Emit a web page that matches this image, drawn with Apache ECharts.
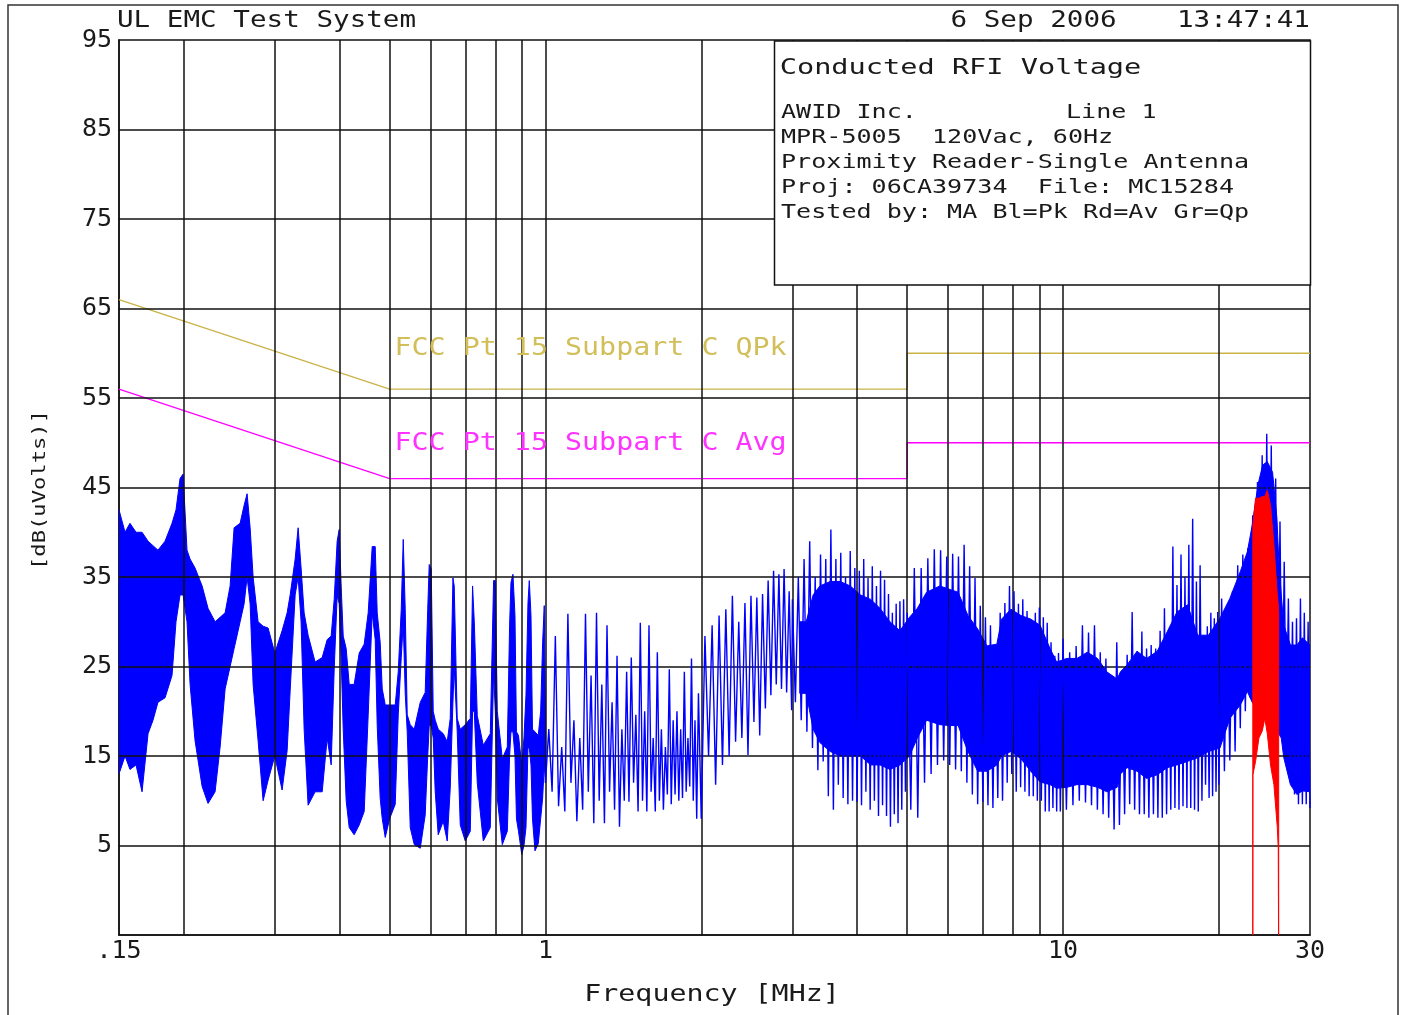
<!DOCTYPE html>
<html><head><meta charset="utf-8">
<script src="https://cdn.jsdelivr.net/npm/echarts@6/dist/echarts.min.js"></script>
<style>html,body{margin:0;padding:0;background:#fff}#c{width:1403px;height:1015px}</style>
</head><body><div id="c"></div>
<script>
// ---------- tick / grid data ----------
const gridFreqs = [0.2,0.3,0.4,0.5,0.6,0.7,0.8,0.9,1,2,3,4,5,6,7,8,9,10,20];
const gridLevels = [5,15,25,35,45,55,65,75,85];

// ---------- limit lines ----------
const limFreq = [0.15, 0.5, 5, 5, 30];
const qpkVal  = [66, 56, 56, 60, 60];
const avgVal  = [56, 46, 46, 50, 50];

// ---------- peak trace: envelope band 0.15 - 1 MHz ----------
const bandAFreq = [0.150,0.1541,0.1575,0.1618,0.1662,0.1707,0.1745,0.1784,0.1841,0.1899,
 0.1933,0.1968,0.1995,0.2030,0.2058,0.2104,0.2171,0.2229,0.2300,0.2352,
 0.2405,0.2459,0.2503,0.2571,0.2617,0.2652,0.2688,0.2724,0.2785,0.2848,
 0.2912,0.3000,0.3099,0.3169,0.3212,0.3284,0.3328,0.3372,0.3418,0.3479,
 0.3589,0.3704,0.3787,0.3855,0.3907,0.3959,0.3995,0.4030,0.4067,0.4121,
 0.4177,0.4270,0.4367,0.4465,0.4545,0.4627,0.4689,0.4731,0.4794,0.4838,
 0.4903,0.5000,0.5126,0.5195,0.5265,0.5312,0.5359,0.5407,0.5480,0.5579,
 0.5730,0.5857,0.5923,0.5963,0.6016,0.6070,0.6124,0.6206,0.6346,0.6460,
 0.6547,0.6626,0.6664,0.6754,0.6845,0.7000,0.7158,0.7231,0.7286,0.7384,
 0.7584,0.7824,0.7940,0.8000,0.8071,0.8253,0.8439,0.8526,0.8578,0.8654,
 0.8732,0.8790,0.8869,0.9000,0.9089,0.9170,0.9252,0.9306,0.9377,0.9439,
 0.9545,0.9685,0.9789,0.9876,0.9947,1.000];
const bandAHi = [42.5,40,41,40,40,39,38.5,38,39,41,
 42.5,46,46.5,38,37,36,34,31.5,30,30.5,
 31,34,40.5,41,43,44.3,40.5,35,30,29.5,
 29.3,26.5,29,31,33,37,40.5,36,31,28.5,
 25.5,26,28,28.4,32.5,39,40.3,34,28.4,27,
 23,23,26.5,27.5,31,38.4,38.4,31,27.7,22.5,
 20.7,20.7,20.7,24.4,31.4,39.2,31.4,19.6,18.5,18,
 21,22.1,31.4,36.4,35.9,20,19,18,17.5,16.6,
 19.2,34.9,34,19.2,18,18.5,19.2,34,30,19.5,
 16.2,17.5,34.6,34.6,20,14.7,16,29.6,34.4,35.3,
 30.7,17.7,17.3,14,17,21.8,32.1,34.6,30.7,18,
 17.7,17.3,20,27.7,31.8,20];
const bandALo = [13,15,13.5,14,11,17.5,19,21,21.5,24,
 30,33,33,30,23,16.7,11.6,9.7,11,16,
 22.5,25,27,30,32,35,32,23,16.7,10,
 12.3,15,11.2,15.6,22.3,33,35,30,18,9.5,
 11,11,17,14,24.7,32.9,32,26,18,10,
 7,6.2,7.3,8.8,19.6,31,28,18.4,10.3,8,
 5.9,8,9.6,19.6,26,29.9,22,17.7,7,5.1,
 4.7,8.4,15,18.4,18.4,17,11,6.2,7.7,5.5,
 11.4,21,25,17.7,7.3,5.5,6.6,20,20,12,
 5.5,7,24.4,20,10.3,5.1,6.6,15,17.7,17.7,
 15,8,6.6,4,5,7,15.9,15.9,14,8,
 4.4,5.2,8,10.3,14,12];

// ---------- peak trace: dense core band 3.1 - 30 MHz ----------
const bandBFreq = [3.10,3.19,3.29,3.39,3.55,3.71,3.88,4.06,4.25,4.43,
 4.63,4.84,5.05,5.23,5.45,5.78,6.05,6.27,6.55,6.84,
 7.13,7.45,7.61,7.93,8.29,8.66,9.03,9.44,9.72,10.17,
 10.64,11.14,11.66,12.15,12.72,12.91,13.3,13.9,14.5,15.2,
 15.9,16.6,17.4,18.2,19.1,20.1,21.0,22.0,22.7,23.2,
 23.8,24.3,24.8,25.4,25.9,26.1,26.4,26.7,27.5,28.3,
 29.0,30.0];
const bandBHi = [30,30,33,34,34.5,34.5,34,33,32.5,31.5,
 30,29,30.5,31.5,33.3,34,33.6,33.3,30.7,29.2,
 27.3,27.5,30.3,31.4,30.7,30.3,29.6,27,25.5,25.9,
 25.9,26.6,25.9,24.4,23.6,24.4,25.2,26.7,25.9,26.7,
 28.9,31.1,31.9,28.5,28.5,30.4,32.6,35.6,37.8,40.8,
 45.3,47.5,47.9,46.7,41.5,37.1,33,29.6,27.4,27.4,
 28.2,27.4];
const bandBLo = [22,22,18,16.5,15.5,15,15,15,14,14,
 13.5,14,15,17,19,18.5,18.4,18.4,15.5,13.3,
 13.3,14,15,15.5,14.7,13.3,12.1,11.8,11.4,11.5,
 11.8,11.8,11.5,11,11.5,13,13.7,13.3,12.5,12.9,
 13.7,14,14.4,14.8,15.5,15.9,19.2,20.7,22.2,21,
 20,20,19.5,19,18,17.5,17,14.8,11.8,10.7,
 11.1,11];

// ---------- peak trace: individual sweep spikes 1 - 30 MHz ----------
const spikeFreq1 = [1.000,1.015,1.030,1.045,1.060,1.075,1.090,1.105,1.120,1.135,1.150,1.165,1.180,1.195,1.210,1.225,1.240,1.255,1.270,1.285,1.300,1.315,1.330,1.345,1.360,1.375,1.390,1.405,1.420,1.435,1.450,1.465,1.480,1.495,1.510,1.525,1.540,1.555,1.570,1.585,1.600,1.615,1.630,1.645,1.660,1.675,1.690,1.705,1.720,1.735,1.750,1.765,1.780,1.795,1.810,1.825,1.840,1.855,1.870,1.885,1.900,1.915,1.930,1.945,1.960,1.975];
const spikeVal1 = [12,18,11,28.4,9.4,16,8.8,30.9,12,19, 7.7,17,9,30.9,11,24,7.5,31,10,23, 7.5,29.6,11,21,9,26.2,7.1,18,10,24.4, 9.9,26,12,19.6,8.8,29.9,10,20,8.8,29.6, 11,17,8.8,26.6,10,18,9,16,10.7,24.7, 9.6,19,10.7,20,10,18,10.3,24.4,11,17, 11.6,25.9,10,19,8,22];
const spikeFreq2 = [2.000,2.033,2.066,2.099,2.132,2.165,2.198,2.231,2.264,2.297,2.330,2.363,2.396,2.429,2.462,2.495,2.528,2.561,2.594,2.627,2.660,2.693,2.726,2.759,2.792,2.825,2.858,2.891,2.924,2.957,2.990];
const spikeVal2 = [8,28.4,15,29.6,11.8,30.7,14,31.4,15,32.9,16.6,30,17,32.1,15.1,32.9,18.8,32.7,17.3,33.1,20.3,34.6,21.8,35.7,23,35.3,22.5,35.9,22.1,33.4,20.1];
const spikeFreq3 = [3.00,3.04,3.08,3.12,3.16,3.20,3.24,3.28,3.32,3.36,3.40,3.44,3.48,3.52,3.56,3.60,3.64,3.68,3.72,3.76,3.80,3.84,3.88,3.92,3.96,4.00,4.04,4.08,4.12,4.16,4.20,4.24,4.28,4.32,4.36,4.40,4.44,4.48,4.52,4.56,4.60,4.64,4.68,4.72,4.76,4.80,4.84,4.88,4.92,4.96];
const spikeVal3 = [32.5,21,35,19,37,17.7,39,15.9,35,13.4, 37.5,14.4,37,10.5,40.3,9,37,11.8,37.7,10.3, 35,9.6,37.9,10,36,9.9,35.7,9.5,37,11, 34.9,9,36.2,10,34,8.3,35.7,9.5,34.7,8.3, 33.1,7.1,31,8.5,32,7.5,32.3,9,32.5,11];
const spikeFreq4 = [5.00,5.08,5.16,5.24,5.32,5.40,5.48,5.56,5.64,5.72,5.80,5.88,5.96,6.04,6.12,6.20,6.28,6.36,6.44,6.52,6.60,6.68,6.76,6.84,6.92,7.00,7.08,7.16,7.24,7.32,7.40,7.48,7.56,7.64,7.72,7.80,7.88,7.96,8.04,8.12,8.20,8.28,8.36,8.44,8.52,8.60,8.68,8.76,8.84,8.92,9.00,9.08,9.16,9.24,9.32,9.40,9.48,9.56,9.64,9.72,9.80,9.88];
const spikeVal4 = [31,9,36,8.1,36,12,37.1,13,38.1,14, 38,14.5,37.3,14,37.6,13.5,37.3,13.3,38.6,12, 36.2,10.7,34.9,9.6,31.8,9.9,30.5,9.5,29.6,9.2, 27.3,10.3,31,10,32.1,12,34,13,33.4,11, 32,11.5,32.5,11,31.2,10.5,30,10.5,31,10, 31.6,10,30.5,8.8,29.9,8.8,27.7,9.2,26.2,8.8, 26.5,8.8];
const spikeFreq5 = [10.00,10.15,10.30,10.45,10.60,10.75,10.90,11.05,11.20,11.35,11.50,11.65,11.80,11.95,12.10,12.25,12.40,12.55,12.70,12.85,13.00,13.15,13.30,13.45,13.60,13.75,13.90,14.05,14.20,14.35,14.50,14.65,14.80,14.95,15.10,15.25,15.40,15.55,15.70,15.85,16.00,16.15,16.30,16.45,16.60,16.75,16.90,17.05,17.20,17.35,17.50,17.65,17.80,17.95,18.10,18.25,18.40,18.55,18.70,18.85,19.00,19.15,19.30,19.45,19.60,19.75,19.90];
const spikeVal5 = [28.1,9,26.6,9.5,27.3,10,29.6,9.8,28.8,9.5, 29.6,9,26.6,8.5,25.9,8.1,24,6.8,27.7,7.3, 24.5,8.5,26.3,9.6,31.1,9,26.7,8.5,28.9,8.5, 27,8.1,27.4,8.5,27,8.1,29,8.1,31.5,8.5, 28.9,9,38.4,9.2,34.1,9,37.5,9.4,35,9.2, 38.6,9.2,41.5,9,34.5,8.8,36.3,10,28.5,11.8, 29.5,10.3,31,10.5,30.4,11,31.1];
const spikeFreq6 = [20.00,20.25,20.50,20.75,21.00,21.25,21.50,21.75,22.00,22.25,22.50,22.75,23.00,23.25,23.50,23.75,24.00,24.25,24.50,24.75,25.00,25.25,25.50,25.75,26.00,26.25,26.50,26.75,27.00,27.25,27.50,27.75,28.00,28.25,28.50,28.75,29.00,29.25,29.50,29.75,30.00];
const spikeVal6 = [11.8,32.6,13.3,31,14.5,33.4,15.5,36.3,18.1,37.5, 20,38.2,21.5,41.9,21,45.6,20,48.6,20,51, 19.5,49.7,18.5,46,18,41.2,17,36.7,16,32.6, 12,30,10.7,30.4,9.6,32.6,9.6,31,9.6,30, 9.2];

// ---------- average trace (red) ----------
const redFreq = [23.26,23.27,23.55,23.90,24.26,24.54,24.81,25.17,25.55,25.94,26.05,26.10];
const redTop  = [38.5,40.8,43.8,43.8,44,44,44.7,43,38.6,33,32,31];
const redBot  = [-10,12.9,14.4,17,17.8,19.2,17.5,14,11.8,7,4.7,-10];

// ---------- texts ----------
const headerLeft = 'UL EMC Test System';
const headerDate = '6 Sep 2006';
const headerTime = '13:47:41';
const boxTitle = 'Conducted RFI Voltage';
const boxLines = ['AWID Inc.', 'MPR-5005  120Vac, 60Hz', 'Proximity Reader-Single Antenna', 'Proj: 06CA39734  File: MC15284', 'Tested by: MA Bl=Pk Rd=Av Gr=Qp'];
const boxLineRight = 'Line 1';
const qpkLabel = 'FCC Pt 15 Subpart C QPk';
const avgLabel = 'FCC Pt 15 Subpart C Avg';
const xName = 'Frequency [MHz]';
const yName = '[dB(uVolts)]';

// ---------- build ----------
const FONT = '"DejaVu Sans Mono", "Liberation Mono", monospace';
const BLUE = '#0000ff', RED = '#ff0000', INK = '#1a1a1a';
const QPK_C = '#c9b347', AVG_C = '#ff00ff';
const zip = (xs, ys) => xs.map((x, i) => [x, ys[i]]);
const spikeFreq = [].concat(spikeFreq1, spikeFreq2, spikeFreq3, spikeFreq4, spikeFreq5, spikeFreq6);
const spikeVal = [].concat(spikeVal1, spikeVal2, spikeVal3, spikeVal4, spikeVal5, spikeVal6);

// filled band between an upper and a lower trace, drawn through the axes' scales
function bandSeries(name, xs, hi, lo, color, z) {
  return {
    type: 'custom', name: name, z: z, silent: true, clip: true,
    data: xs.map((x, i) => [x, hi[i], lo[i]]),
    encode: { x: 0, y: [1, 2] },
    renderItem: function (params, api) {
      if (params.dataIndex !== 0) return null;
      const pts = [];
      for (let i = 0; i < xs.length; i++) pts.push(api.coord([xs[i], hi[i]]));
      for (let i = xs.length - 1; i >= 0; i--) pts.push(api.coord([xs[i], lo[i]]));
      return { type: 'polygon', shape: { points: pts }, style: { fill: color, stroke: color, lineWidth: 1 } };
    }
  };
}
function txt(text, x, y, size, sx, color, align) {
  return { type: 'text', x: x, y: y, scaleX: sx, z: 102, silent: true,
    style: { text: text, fontFamily: FONT, fontSize: size, fill: color, align: align || 'left', verticalAlign: 'middle' } };
}

const chart = echarts.init(document.getElementById('c'), null, { renderer: 'canvas' });
const option = {
  animation: false,
  backgroundColor: '#ffffff',
  grid: { left: 119, right: 93, top: 40, bottom: 80, show: true, borderColor: '#111', borderWidth: 1.5, backgroundColor: 'transparent' },
  xAxis: {
    type: 'log', logBase: 10, min: 0.15, max: 30,
    axisLine: { show: true, onZero: false, lineStyle: { color: '#111', width: 1.5 } },
    axisTick: { show: false }, splitLine: { show: false },
    axisLabel: { fontFamily: FONT, fontSize: 25, color: INK, margin: 4, showMinLabel: true, showMaxLabel: true,
      formatter: v => (Math.abs(v - 0.15) < 1e-6 ? '.15' : String(Math.round(v))) }
  },
  yAxis: {
    type: 'value', min: -5, max: 95, interval: 10,
    axisLine: { show: true, onZero: false, lineStyle: { color: '#111', width: 1.5 } },
    axisTick: { show: false }, splitLine: { show: false },
    axisLabel: { fontFamily: FONT, fontSize: 25, color: INK, margin: 7, formatter: v => (v < 0 ? '' : String(v)) }
  },
  series: [
    { name: 'QPk limit', type: 'line', data: zip(limFreq, qpkVal), symbol: 'none', lineStyle: { color: QPK_C, width: 1.3 }, z: 3, silent: true },
    { name: 'Avg limit', type: 'line', data: zip(limFreq, avgVal), symbol: 'none', lineStyle: { color: AVG_C, width: 1.3 }, z: 3, silent: true },
    bandSeries('Peak band A', bandAFreq, bandAHi, bandALo, BLUE, 4),
    bandSeries('Peak band B', bandBFreq, bandBHi, bandBLo, BLUE, 4),
    { name: 'Peak', type: 'line', data: zip(spikeFreq, spikeVal), symbol: 'none', lineStyle: { color: BLUE, width: 1.4 }, z: 5, silent: true },
    { name: 'grid', type: 'line', data: [], z: 6, silent: true,
      markLine: { symbol: ['none', 'none'], silent: true, animation: false, label: { show: false },
        lineStyle: { color: '#111', width: 1.5, type: 'solid' },
        data: gridFreqs.map(f => ({ xAxis: f })).concat(gridLevels.map(v => ({ yAxis: v }))) } },
    bandSeries('Average', redFreq, redTop, redBot, RED, 7)
  ],
  graphic: [
    { type: 'rect', z: 99, silent: true, shape: { x: 8, y: 5, width: 1390, height: 1040 }, style: { fill: 'none', stroke: '#333', lineWidth: 1.5 } },
    { type: 'rect', z: 100, silent: true, shape: { x: 774.5, y: 41, width: 536, height: 244 }, style: { fill: '#fff', stroke: '#111', lineWidth: 1.5 } },
    txt(headerLeft, 117, 21, 23, 1.2, INK),
    txt(headerDate, 950.5, 21, 23, 1.2, INK),
    txt(headerTime, 1177, 21, 23, 1.2, INK),
    txt(boxTitle, 779.7, 68.3, 22, 1.3, INK),
    txt(boxLines[0], 781, 113.3, 19, 1.32, INK),
    txt(boxLineRight, 1066, 113.3, 19, 1.32, INK),
    txt(boxLines[1], 781, 137.6, 19, 1.32, INK),
    txt(boxLines[2], 781, 162.6, 19, 1.32, INK),
    txt(boxLines[3], 781, 188.1, 19, 1.32, INK),
    txt(boxLines[4], 781, 213.3, 19, 1.32, INK),
    txt(qpkLabel, 394.5, 348.3, 24, 1.18, '#d2bf5a'),
    txt(avgLabel, 394.5, 443.9, 24, 1.18, '#ff33ff'),
    txt(xName, 712, 995, 23, 1.23, INK, 'center'),
    { type: 'text', x: 40, y: 490, rotation: Math.PI / 2, scaleX: 1.23, z: 102, silent: true,
      style: { text: yName, fontFamily: FONT, fontSize: 18, fill: INK, align: 'center', verticalAlign: 'middle' } }
  ]
};
chart.setOption(option);
</script></body></html>
